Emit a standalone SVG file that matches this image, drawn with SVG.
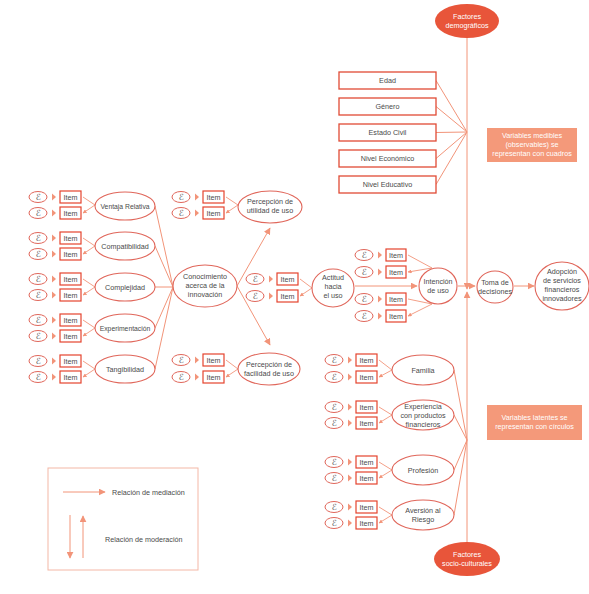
<svg xmlns="http://www.w3.org/2000/svg" width="589" height="594" viewBox="0 0 589 594">
<style>
text{font-family:"Liberation Sans","DejaVu Sans",sans-serif;font-size:7.2px;fill:#4a4a4a;text-anchor:middle}
.w{fill:#ffffff}
.eps{font-family:"DejaVu Sans","Liberation Serif",serif;font-size:8.5px;fill:#555}
.lat{fill:#ffffff;stroke:#E0665A;stroke-width:1.1}
.epsE{fill:#ffffff;stroke:#E0665A;stroke-width:1}
.item{fill:#ffffff;stroke:#E5432E;stroke-width:1.2}
.obs{fill:#ffffff;stroke:#E04B35;stroke-width:1.3}
.fac{fill:#E8553A}
.note{fill:#F4997A}
.c{stroke:#F29479;stroke-width:1;fill:none}
.ca{stroke:#F29479;stroke-width:1;fill:none;marker-end:url(#ah)}
.cs{stroke:#F29479;stroke-width:0.9;fill:none;marker-end:url(#as)}
.tri{fill:#F29479}
.lt{text-anchor:start}
.sm{font-size:6.8px}
</style>
<defs>
<marker id="ah" viewBox="0 0 10 10" refX="9" refY="5" markerWidth="7" markerHeight="7" orient="auto" markerUnits="userSpaceOnUse"><path d="M0,0 L10,5 L0,10 z" fill="#F29479"/></marker>
<marker id="as" viewBox="0 0 10 10" refX="9" refY="5" markerWidth="4" markerHeight="4" orient="auto" markerUnits="userSpaceOnUse"><path d="M0,0 L10,5 L0,10 z" fill="#F29479"/></marker>
</defs>
<rect width="589" height="594" fill="#ffffff"/>

<g id="connectors">
<path class="c" d="M436,80.5 L467,132 M436,106.5 L467,132 M436,132.5 L467,132 M436,158.5 L467,132 M436,184.5 L467,132"/>
<path class="ca" d="M467,37 L467,289"/>
<path class="ca" d="M467,542 L467,292"/>
<path class="c" d="M454,370 L467,440 M454,415 L467,440 M454,470 L467,440 M454,515 L467,440"/>
<path class="c" d="M155,206 L173,287 M155,246 L173,287 M155,287 L173,287 M155,328 L173,287 M155,369 L173,287"/>
<path class="ca" d="M237,286 L270,228"/>
<path class="ca" d="M237,286 L270,345"/>
<path class="ca" d="M355,286 L417,286"/>
<path class="ca" d="M458,286 L475,286"/>
<path class="ca" d="M514,286 L534,286"/>
<path class="cs" d="M95,205 L83,197 M95,205 L83,213"/>
<path class="cs" d="M95,246 L83,238 M95,246 L83,254"/>
<path class="cs" d="M95,287 L83,279 M95,287 L83,295"/>
<path class="cs" d="M95,328 L83,320 M95,328 L83,336"/>
<path class="cs" d="M95,369 L83,361 M95,369 L83,377"/>
<path class="cs" d="M238,205 L226,197 M238,205 L226,213"/>
<path class="cs" d="M238,369 L226,360 M238,369 L226,377"/>
<path class="cs" d="M312,288 L300,279 M312,288 L300,296"/>
<path class="cs" d="M432,268 L408,255 M432,268 L408,272"/>
<path class="cs" d="M432,304 L408,299 M432,304 L408,316"/>
<path class="cs" d="M392,370 L379,360 M392,370 L379,377"/>
<path class="cs" d="M392,415 L379,407 M392,415 L379,423"/>
<path class="cs" d="M392,470 L379,462 M392,470 L379,478"/>
<path class="cs" d="M392,515 L379,507 M392,515 L379,523"/>
</g>

<g id="factores-demograficos">
<ellipse class="fac" cx="467" cy="21" rx="32" ry="17"/>
<text class="w" x="467" y="19">Factores</text>
<text class="w" x="467" y="28">demográficos</text>
</g>
<g id="factores-socioculturales">
<ellipse class="fac" cx="467" cy="559" rx="33" ry="17"/>
<text class="w" x="467" y="557">Factores</text>
<text class="w" x="467" y="566">socio-culturales</text>
</g>

<g id="edad"><rect class="obs" x="339" y="72" width="97" height="17"/><text x="387.5" y="83">Edad</text></g>
<g id="genero"><rect class="obs" x="339" y="98" width="97" height="17"/><text x="387.5" y="109">Género</text></g>
<g id="estado-civil"><rect class="obs" x="339" y="124" width="97" height="17"/><text x="387.5" y="135">Estado Civil</text></g>
<g id="nivel-economico"><rect class="obs" x="339" y="150" width="97" height="17"/><text x="387.5" y="161">Nivel Económico</text></g>
<g id="nivel-educativo"><rect class="obs" x="339" y="176" width="97" height="17"/><text x="387.5" y="187">Nivel Educativo</text></g>

<g id="nota-medibles">
<rect class="note" x="487" y="128" width="90" height="34"/>
<text class="w" x="532" y="138">Variables medibles</text>
<text class="w" x="532" y="147">(observables) se</text>
<text class="w" x="532" y="156">representan con cuadros</text>
</g>
<g id="nota-latentes">
<rect class="note" x="487" y="405" width="95" height="35"/>
<text class="w" x="534.5" y="420">Variables latentes se</text>
<text class="w" x="534.5" y="429">representan con círculos</text>
</g>

<g id="items-left">
<g><ellipse class="epsE" cx="38" cy="197" rx="9" ry="5.5"/><text class="eps" x="38" y="200">ℰ</text><path class="tri" d="M52,193.5 L56,197 L52,200.5z"/><rect class="item" x="60" y="191" width="21" height="12"/><text x="70.5" y="200">Item</text></g>
<g><ellipse class="epsE" cx="38" cy="213" rx="9" ry="5.5"/><text class="eps" x="38" y="216">ℰ</text><path class="tri" d="M52,209.5 L56,213 L52,216.5z"/><rect class="item" x="60" y="207" width="21" height="12"/><text x="70.5" y="216">Item</text></g>
<g><ellipse class="epsE" cx="38" cy="238" rx="9" ry="5.5"/><text class="eps" x="38" y="241">ℰ</text><path class="tri" d="M52,234.5 L56,238 L52,241.5z"/><rect class="item" x="60" y="232" width="21" height="12"/><text x="70.5" y="241">Item</text></g>
<g><ellipse class="epsE" cx="38" cy="254" rx="9" ry="5.5"/><text class="eps" x="38" y="257">ℰ</text><path class="tri" d="M52,250.5 L56,254 L52,257.5z"/><rect class="item" x="60" y="248" width="21" height="12"/><text x="70.5" y="257">Item</text></g>
<g><ellipse class="epsE" cx="38" cy="279" rx="9" ry="5.5"/><text class="eps" x="38" y="282">ℰ</text><path class="tri" d="M52,275.5 L56,279 L52,282.5z"/><rect class="item" x="60" y="273" width="21" height="12"/><text x="70.5" y="282">Item</text></g>
<g><ellipse class="epsE" cx="38" cy="295" rx="9" ry="5.5"/><text class="eps" x="38" y="298">ℰ</text><path class="tri" d="M52,291.5 L56,295 L52,298.5z"/><rect class="item" x="60" y="289" width="21" height="12"/><text x="70.5" y="298">Item</text></g>
<g><ellipse class="epsE" cx="38" cy="320" rx="9" ry="5.5"/><text class="eps" x="38" y="323">ℰ</text><path class="tri" d="M52,316.5 L56,320 L52,323.5z"/><rect class="item" x="60" y="314" width="21" height="12"/><text x="70.5" y="323">Item</text></g>
<g><ellipse class="epsE" cx="38" cy="336" rx="9" ry="5.5"/><text class="eps" x="38" y="339">ℰ</text><path class="tri" d="M52,332.5 L56,336 L52,339.5z"/><rect class="item" x="60" y="330" width="21" height="12"/><text x="70.5" y="339">Item</text></g>
<g><ellipse class="epsE" cx="38" cy="361" rx="9" ry="5.5"/><text class="eps" x="38" y="364">ℰ</text><path class="tri" d="M52,357.5 L56,361 L52,364.5z"/><rect class="item" x="60" y="355" width="21" height="12"/><text x="70.5" y="364">Item</text></g>
<g><ellipse class="epsE" cx="38" cy="377" rx="9" ry="5.5"/><text class="eps" x="38" y="380">ℰ</text><path class="tri" d="M52,373.5 L56,377 L52,380.5z"/><rect class="item" x="60" y="371" width="21" height="12"/><text x="70.5" y="380">Item</text></g>
</g>

<g id="items-percepcion">
<g><ellipse class="epsE" cx="181" cy="197" rx="9" ry="5.5"/><text class="eps" x="181" y="200">ℰ</text><path class="tri" d="M195,193.5 L199,197 L195,200.5z"/><rect class="item" x="203" y="191" width="21" height="12"/><text x="213.5" y="200">Item</text></g>
<g><ellipse class="epsE" cx="181" cy="213" rx="9" ry="5.5"/><text class="eps" x="181" y="216">ℰ</text><path class="tri" d="M195,209.5 L199,213 L195,216.5z"/><rect class="item" x="203" y="207" width="21" height="12"/><text x="213.5" y="216">Item</text></g>
<g><ellipse class="epsE" cx="181" cy="360" rx="9" ry="5.5"/><text class="eps" x="181" y="363">ℰ</text><path class="tri" d="M195,356.5 L199,360 L195,363.5z"/><rect class="item" x="203" y="354" width="21" height="12"/><text x="213.5" y="363">Item</text></g>
<g><ellipse class="epsE" cx="181" cy="377" rx="9" ry="5.5"/><text class="eps" x="181" y="380">ℰ</text><path class="tri" d="M195,373.5 L199,377 L195,380.5z"/><rect class="item" x="203" y="371" width="21" height="12"/><text x="213.5" y="380">Item</text></g>
</g>

<g id="items-actitud">
<g><ellipse class="epsE" cx="255" cy="279" rx="9" ry="5.5"/><text class="eps" x="255" y="282">ℰ</text><path class="tri" d="M269,275.5 L273,279 L269,282.5z"/><rect class="item" x="277" y="273" width="21" height="12"/><text x="287.5" y="282">Item</text></g>
<g><ellipse class="epsE" cx="255" cy="296" rx="9" ry="5.5"/><text class="eps" x="255" y="299">ℰ</text><path class="tri" d="M269,292.5 L273,296 L269,299.5z"/><rect class="item" x="277" y="290" width="21" height="12"/><text x="287.5" y="299">Item</text></g>
</g>

<g id="items-intencion">
<g><ellipse class="epsE" cx="364" cy="255" rx="9" ry="5.5"/><text class="eps" x="364" y="258">ℰ</text><path class="tri" d="M378,251.5 L382,255 L378,258.5z"/><rect class="item" x="386" y="249" width="20" height="12"/><text x="396" y="258">Item</text></g>
<g><ellipse class="epsE" cx="364" cy="272" rx="9" ry="5.5"/><text class="eps" x="364" y="275">ℰ</text><path class="tri" d="M378,268.5 L382,272 L378,275.5z"/><rect class="item" x="386" y="266" width="20" height="12"/><text x="396" y="275">Item</text></g>
<g><ellipse class="epsE" cx="364" cy="299" rx="9" ry="5.5"/><text class="eps" x="364" y="302">ℰ</text><path class="tri" d="M378,295.5 L382,299 L378,302.5z"/><rect class="item" x="386" y="293" width="20" height="12"/><text x="396" y="302">Item</text></g>
<g><ellipse class="epsE" cx="364" cy="316" rx="9" ry="5.5"/><text class="eps" x="364" y="319">ℰ</text><path class="tri" d="M378,312.5 L382,316 L378,319.5z"/><rect class="item" x="386" y="310" width="20" height="12"/><text x="396" y="319">Item</text></g>
</g>

<g id="items-socio">
<g><ellipse class="epsE" cx="334" cy="360" rx="9" ry="5.5"/><text class="eps" x="334" y="363">ℰ</text><path class="tri" d="M348,356.5 L352,360 L348,363.5z"/><rect class="item" x="356" y="354" width="21" height="12"/><text x="366.5" y="363">Item</text></g>
<g><ellipse class="epsE" cx="334" cy="377" rx="9" ry="5.5"/><text class="eps" x="334" y="380">ℰ</text><path class="tri" d="M348,373.5 L352,377 L348,380.5z"/><rect class="item" x="356" y="371" width="21" height="12"/><text x="366.5" y="380">Item</text></g>
<g><ellipse class="epsE" cx="334" cy="407" rx="9" ry="5.5"/><text class="eps" x="334" y="410">ℰ</text><path class="tri" d="M348,403.5 L352,407 L348,410.5z"/><rect class="item" x="356" y="401" width="21" height="12"/><text x="366.5" y="410">Item</text></g>
<g><ellipse class="epsE" cx="334" cy="423" rx="9" ry="5.5"/><text class="eps" x="334" y="426">ℰ</text><path class="tri" d="M348,419.5 L352,423 L348,426.5z"/><rect class="item" x="356" y="417" width="21" height="12"/><text x="366.5" y="426">Item</text></g>
<g><ellipse class="epsE" cx="334" cy="462" rx="9" ry="5.5"/><text class="eps" x="334" y="465">ℰ</text><path class="tri" d="M348,458.5 L352,462 L348,465.5z"/><rect class="item" x="356" y="456" width="21" height="12"/><text x="366.5" y="465">Item</text></g>
<g><ellipse class="epsE" cx="334" cy="478" rx="9" ry="5.5"/><text class="eps" x="334" y="481">ℰ</text><path class="tri" d="M348,474.5 L352,478 L348,481.5z"/><rect class="item" x="356" y="472" width="21" height="12"/><text x="366.5" y="481">Item</text></g>
<g><ellipse class="epsE" cx="334" cy="507" rx="9" ry="5.5"/><text class="eps" x="334" y="510">ℰ</text><path class="tri" d="M348,503.5 L352,507 L348,510.5z"/><rect class="item" x="356" y="501" width="21" height="12"/><text x="366.5" y="510">Item</text></g>
<g><ellipse class="epsE" cx="334" cy="523" rx="9" ry="5.5"/><text class="eps" x="334" y="526">ℰ</text><path class="tri" d="M348,519.5 L352,523 L348,526.5z"/><rect class="item" x="356" y="517" width="21" height="12"/><text x="366.5" y="526">Item</text></g>
</g>

<g id="ventaja-relativa"><ellipse class="lat" cx="125" cy="206" rx="30" ry="14"/><text class="sm" x="125" y="209">Ventaja Relativa</text></g>
<g id="compatibilidad"><ellipse class="lat" cx="125" cy="246" rx="30" ry="14"/><text x="125" y="249">Compatibilidad</text></g>
<g id="complejidad"><ellipse class="lat" cx="125" cy="287" rx="30" ry="14"/><text x="125" y="290">Complejidad</text></g>
<g id="experimentacion"><ellipse class="lat" cx="125" cy="328" rx="30" ry="14"/><text class="sm" x="125" y="331">Experimentación</text></g>
<g id="tangibilidad"><ellipse class="lat" cx="125" cy="369" rx="30" ry="14"/><text x="125" y="372">Tangibilidad</text></g>

<g id="conocimiento"><ellipse class="lat" cx="205" cy="286" rx="32" ry="21"/><text x="205" y="279">Conocimiento</text><text x="205" y="288">acerca de la</text><text x="205" y="297">innovación</text></g>
<g id="percepcion-utilidad"><ellipse class="lat" cx="270" cy="207" rx="32" ry="16"/><text x="270" y="204">Percepción de</text><text x="270" y="213">utilidad de uso</text></g>
<g id="percepcion-facilidad"><ellipse class="lat" cx="269" cy="369" rx="31" ry="16"/><text x="269" y="367">Percepción de</text><text x="269" y="376">facilidad de uso</text></g>
<g id="actitud"><ellipse class="lat" cx="333" cy="288" rx="21" ry="19"/><text x="333" y="280">Actitud</text><text x="333" y="289">hacia</text><text x="333" y="298">el uso</text></g>
<g id="intencion"><ellipse class="lat" cx="438" cy="286" rx="19" ry="18"/><text x="438" y="284">Intención</text><text x="438" y="293">de uso</text></g>
<g id="toma-decisiones"><ellipse class="lat" cx="495" cy="287" rx="18" ry="16"/><text x="495" y="285">Toma de</text><text x="495" y="294">decisiones</text></g>
<g id="adopcion"><ellipse class="lat" cx="562" cy="286" rx="27" ry="24"/><text x="562" y="274">Adopción</text><text x="562" y="283">de servicios</text><text x="562" y="292">financieros</text><text x="562" y="301">innovadores</text></g>

<g id="familia"><ellipse class="lat" cx="423" cy="370" rx="31" ry="15"/><text x="423" y="373">Familia</text></g>
<g id="experiencia"><ellipse class="lat" cx="423" cy="415" rx="31" ry="15"/><text x="423" y="409">Experiencia</text><text x="423" y="418">con productos</text><text x="423" y="427">financieros</text></g>
<g id="profesion"><ellipse class="lat" cx="423" cy="470" rx="31" ry="15"/><text x="423" y="473">Profesión</text></g>
<g id="aversion"><ellipse class="lat" cx="423" cy="515" rx="31" ry="15"/><text x="423" y="513">Aversión al</text><text x="423" y="522">Riesgo</text></g>

<g id="legend">
<rect x="48" y="468" width="150" height="102" fill="none" stroke="#F4B7A6" stroke-width="1"/>
<path class="ca" d="M63,492 L105,492"/>
<text class="lt" x="112" y="495">Relación de mediación</text>
<path class="ca" d="M70,515 L70,558"/>
<path class="ca" d="M83,558 L83,516"/>
<text class="lt" x="105" y="542">Relación de moderación</text>
</g>
</svg>
